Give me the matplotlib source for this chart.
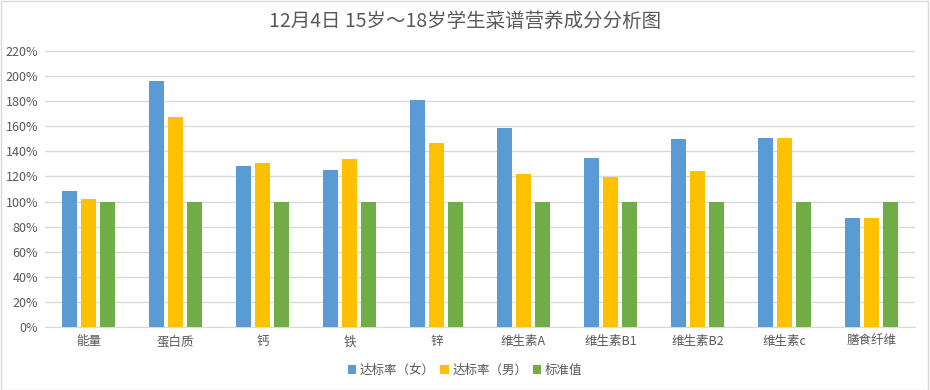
import matplotlib.pyplot as plt
import numpy as np
from matplotlib.ticker import FuncFormatter

plt.rcParams['font.family'] = ['Noto Sans CJK SC', 'DejaVu Sans']

categories = ["能量", "蛋白质", "钙", "铁", "锌", "维生素A", "维生素B1", "维生素B2", "维生素c", "膳食纤维"]
female = [108.5, 196, 128, 125, 181, 158.5, 134.5, 150, 150.5, 86.5]
male = [102, 167, 130.5, 134, 147, 122, 119.5, 124, 150.5, 86.5]
standard = [100, 100, 100, 100, 100, 100, 100, 100, 100, 100]
series_names = ["达标率（女）", "达标率（男）", "标准值"]
colors = ["#5b9bd5", "#ffc000", "#70ad47"]

text_color = "#595959"
grid_color = "#d9d9d9"

def main():
    fig = plt.figure(figsize=(9.3, 3.9), dpi=100)
    ax = fig.add_axes([45 / 930, 1 - 327 / 390, 870 / 930, 276 / 390])

    x = np.arange(len(categories))
    width = 0.172
    step = 0.218
    for i, (vals, name, c) in enumerate(zip([female, male, standard], series_names, colors)):
        ax.bar(x + (i - 1) * step, vals, width=width, color=c, label=name, zorder=3)

    ax.set_xlim(-0.5, len(categories) - 0.5)
    ax.set_ylim(0, 220)
    ax.set_yticks(np.arange(0, 221, 20))
    ax.yaxis.set_major_formatter(FuncFormatter(lambda v, p: "%d%%" % v))
    ax.grid(axis="y", color=grid_color, linewidth=1, zorder=0)
    for s in ["top", "right", "left"]:
        ax.spines[s].set_visible(False)
    ax.spines["bottom"].set_color(grid_color)
    ax.set_xticks(x)
    ax.set_xticklabels(categories)
    ax.tick_params(axis="both", length=0, colors=text_color, labelsize=9)
    ax.tick_params(axis="x", pad=6)
    ax.tick_params(axis="y", pad=5)

    fig.text(0.5, 1 - 21 / 390, "12月4日 15岁～18岁学生菜谱营养成分分析图",
             ha="center", va="center", fontsize=14, color=text_color)

    leg = fig.legend(loc="center", bbox_to_anchor=(0.5, 1 - 370 / 390), ncol=3,
                     frameon=False, fontsize=9, handlelength=0.7, handleheight=0.7,
                     handletextpad=0.3, columnspacing=0.4)
    for t in leg.get_texts():
        t.set_color(text_color)

    fig.patches.append(plt.Rectangle((0.001, 0.001), 0.997, 0.997, transform=fig.transFigure,
                                     fill=False, edgecolor=grid_color, linewidth=1))
    fig.savefig("out.png", dpi=100)

if __name__ == '__main__':
    main()
